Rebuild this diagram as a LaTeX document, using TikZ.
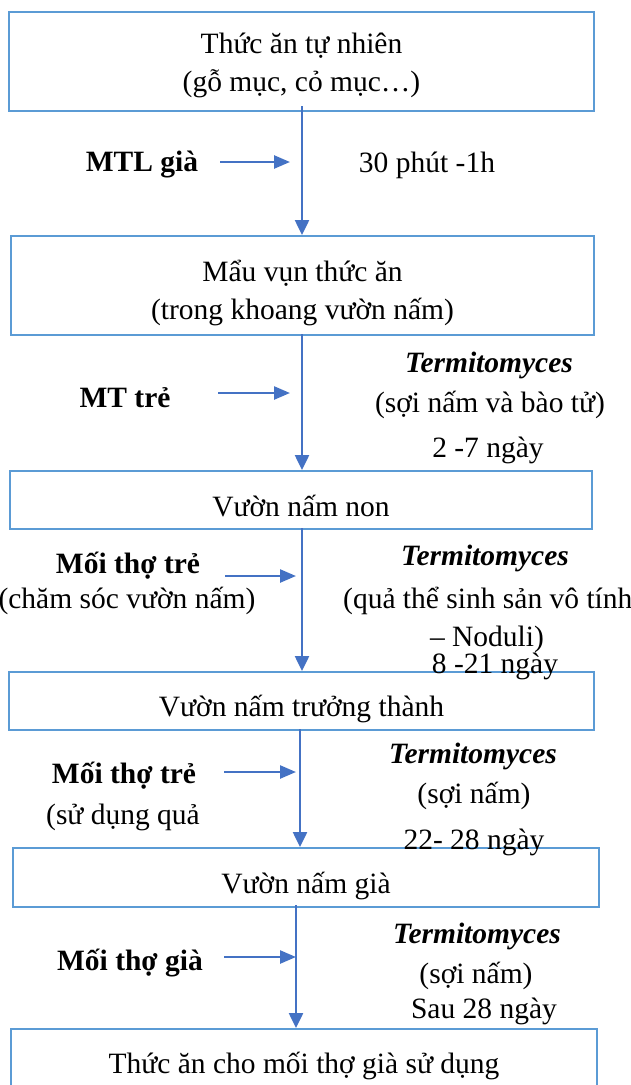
\documentclass[tikz,border=0pt]{standalone}
\usepackage{fontspec}
\setmainfont{Liberation Serif}
\usetikzlibrary{arrows.meta}
\definecolor{boxblue}{HTML}{5B9BD5}
\definecolor{arrblue}{HTML}{4472C4}
\begin{document}
\begin{tikzpicture}[x=1pt,y=-1pt,
  every node/.style={font=\fontsize{29.5}{38}\selectfont, inner sep=0pt, text=black},
  stagebox/.style={draw=boxblue, line width=2pt},
  lbl/.style={align=center},
  lblb/.style={font=\fontsize{29.5}{38}\selectfont\bfseries},
  lbli/.style={font=\fontsize{29.5}{38}\selectfont\bfseries\itshape},
  flow/.style={draw=arrblue, line width=2.5pt, -{Triangle[length=15pt,width=14pt]}},
  side/.style={draw=arrblue, line width=2.5pt, -{Triangle[length=16pt,width=13pt]}}]
\useasboundingbox (0,0) rectangle (630,1085);
\clip (0,0) rectangle (630,1085);
% boxes
\node[stagebox, minimum width=585pt, minimum height=99pt] (b1) at (301.5,61.5) {};
\node[lbl] (b1t) at (301.5,65) {Thức ăn tự nhiên\\(gỗ mục, cỏ mục…)};
\node[stagebox, minimum width=583pt, minimum height=99pt] (b2) at (302.5,285.5) {};
\node[lbl] (b2t) at (302.5,293) {Mẩu vụn thức ăn\\(trong khoang vườn nấm)};
\node[stagebox, minimum width=582pt, minimum height=58pt] (b3) at (301,500) {};
\node[lbl] (b3t) at (301,506) {Vườn nấm non};
\node[stagebox, minimum width=585pt, minimum height=58pt] (b4) at (301.5,701) {};
\node[lbl] (b4t) at (301.5,709) {Vườn nấm trưởng thành};
\node[stagebox, minimum width=586pt, minimum height=59pt] (b5) at (306,877.5) {};
\node[lbl] (b5t) at (306,885.5) {Vườn nấm già};
\node[stagebox, minimum width=586pt, minimum height=66pt] (b6) at (304,1062) {};
\node[lbl] (b6t) at (304,1066) {Thức ăn cho mối thợ già sử dụng};
% main flow
\draw[flow] ([yshift=6pt]b1.south -| 302,0) -- (b2.north -| 302,0);
\draw[flow] ([yshift=2pt]b2.south -| 302,0) -- (b3.north -| 302,0);
\draw[flow] ([yshift=2pt]b3.south -| 302,0) -- (b4.north -| 302,0);
\draw[flow] ([yshift=2pt]b4.south -| 300,0) -- (b5.north -| 300,0);
\draw[flow] ([yshift=3pt]b5.south -| 296,0) -- (b6.north -| 296,0);
% side labels and arrows
\node[lblb] (w1) at (142,165) {MTL già};
\node (t1) at (427,165) {30 phút -1h};
\coordinate (s1a) at (220,162); \coordinate (s1b) at (290,162);
\draw[side] (s1a) -- (s1b);

\node[lblb] (w2) at (125,398) {MT trẻ};
\node[lbli] (f2) at (489,365) {Termitomyces};
\node (f2b) at (490,405) {(sợi nấm và bào tử)};
\node (t2) at (488,450) {2 -7 ngày};
\coordinate (s2a) at (218,393); \coordinate (s2b) at (290,393);
\draw[side] (s2a) -- (s2b);

\node[lblb] (w3) at (128,566) {Mối thợ trẻ};
\node (w3b) at (127,601) {(chăm sóc vườn nấm)};
\node[lbli] (f3) at (485,558) {Termitomyces};
\node[anchor=west] (f3b) at (343,601) {(quả thể sinh sản vô tính};
\node (f3c) at (487,639) {– Noduli)};
\node (t3) at (495,666) {8 -21 ngày};
\coordinate (s3a) at (225,576); \coordinate (s3b) at (296,576);
\draw[side] (s3a) -- (s3b);

\node[lblb] (w4) at (124,776) {Mối thợ trẻ};
\node (w4b) at (123,817) {(sử dụng quả};
\node[lbli] (f4) at (473,756) {Termitomyces};
\node (f4b) at (474,796) {(sợi nấm)};
\node (t4) at (474,842) {22- 28 ngày};
\coordinate (s4a) at (224,772); \coordinate (s4b) at (296,772);
\draw[side] (s4a) -- (s4b);

\node[lblb] (w5) at (130,963) {Mối thợ già};
\node[lbli] (f5) at (477,936) {Termitomyces};
\node (f5b) at (476,976) {(sợi nấm)};
\node (t5) at (484,1011) {Sau 28 ngày};
\coordinate (s5a) at (224,957); \coordinate (s5b) at (296,957);
\draw[side] (s5a) -- (s5b);
\end{tikzpicture}
\end{document}
